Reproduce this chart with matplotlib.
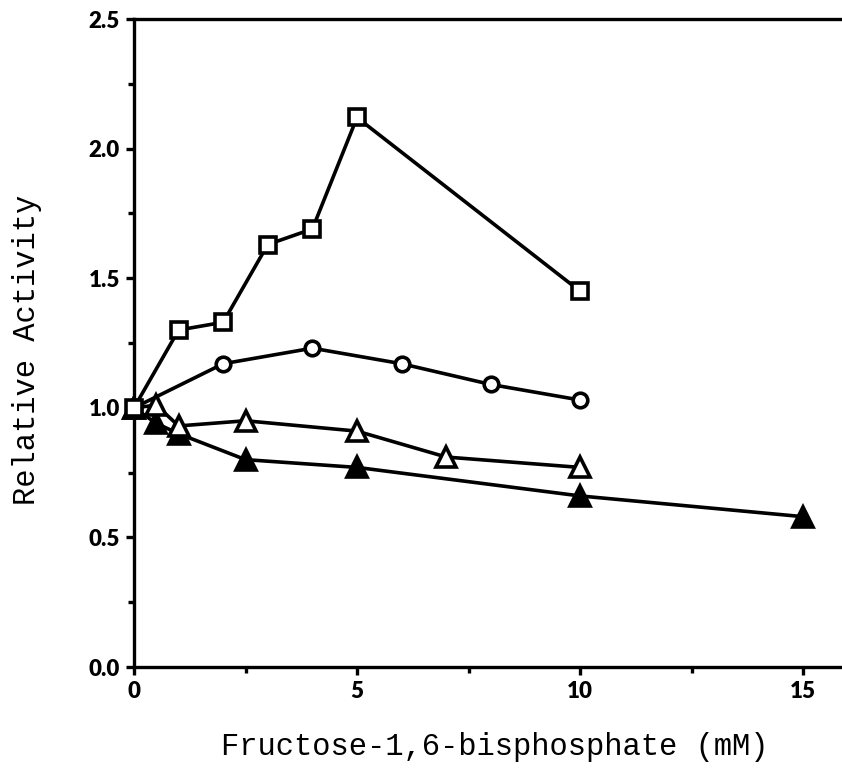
import matplotlib
matplotlib.use("Agg")
import matplotlib.pyplot as plt
from matplotlib.ticker import MultipleLocator, FormatStrFormatter

# Data
sq_x = [0, 1, 2, 3, 4, 5, 10]
sq_y = [1.00, 1.30, 1.33, 1.63, 1.69, 2.12, 1.45]

ci_x = [0, 2, 4, 6, 8, 10]
ci_y = [1.00, 1.17, 1.23, 1.17, 1.09, 1.03]

ot_x = [0, 0.5, 1, 2.5, 5, 7, 10]
ot_y = [1.00, 1.01, 0.93, 0.95, 0.91, 0.81, 0.77]

ft_x = [0, 0.5, 1, 2.5, 5, 10, 15]
ft_y = [1.00, 0.94, 0.90, 0.80, 0.77, 0.66, 0.58]

xticks = [0, 5, 10, 15]
yticks = [0.0, 0.5, 1.0, 1.5, 2.0, 2.5]

W, H = 842, 769
fig = plt.figure(figsize=(W / 100, H / 100), dpi=100)
left, right, top, bottom = 134, 842, 19, 667
ax = fig.add_axes([left / W, 1 - bottom / H, (right - left) / W, (bottom - top) / H])

lw = 2.6
common = dict(color="black", lw=lw, mew=lw, clip_on=False)
ax.plot(ft_x, ft_y, marker="^", ms=14, mfc="black", mec="black", zorder=3, **common)
ax.plot(ot_x, ot_y, marker="^", ms=14, mfc="white", mec="black", zorder=4, **common)
ax.plot(ci_x, ci_y, marker="o", ms=10.5, mfc="white", mec="black", zorder=4, **common)
ax.plot(sq_x, sq_y, marker="s", ms=11.5, mfc="white", mec="black", zorder=5, **common)

ax.set_xlim(0, (right - left) / 44.6)
ax.set_ylim(0, 2.5)
ax.set_xticks(xticks)
ax.set_yticks(yticks)
ax.xaxis.set_minor_locator(MultipleLocator(2.5))
ax.yaxis.set_minor_locator(MultipleLocator(0.25))
ax.yaxis.set_major_formatter(FormatStrFormatter("%.1f"))
ax.xaxis.set_major_formatter(FormatStrFormatter("%d"))

for s in ["left", "bottom", "top"]:
    ax.spines[s].set_linewidth(2.4)
ax.spines["right"].set_visible(False)

ax.tick_params(which="major", direction="out", length=6, width=2.4, pad=4,
               labelsize=16, top=False, right=False)
ax.tick_params(which="minor", direction="out", length=4, width=2.4, top=False, right=False)
for lab in ax.get_xticklabels() + ax.get_yticklabels():
    lab.set_fontfamily("Lato")
    lab.set_fontweight("heavy")

ax.set_xlabel("Fructose-1,6-bisphosphate (mM)", fontfamily="Liberation Mono", fontsize=22)
ax.set_ylabel("Relative Activity", fontfamily="Liberation Mono", fontsize=22)
ax.xaxis.set_label_coords(0.51, -0.1)
ax.yaxis.set_label_coords(-0.13, 0.49)

fig.savefig("out.png", dpi=100)
